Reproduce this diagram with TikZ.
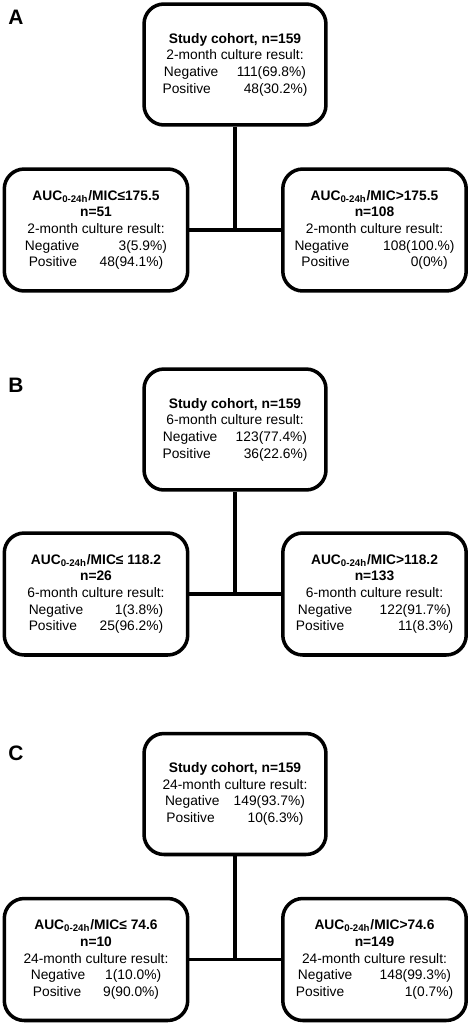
\documentclass[tikz,border=0pt]{standalone}
\usepackage{fontspec}
\setmainfont{Liberation Sans}
\usetikzlibrary{positioning,calc}
\newcommand{\resrow}[3]{\makebox[#1]{#2\hfill #3}}
\tikzset{
  cohort/.style={draw, line width=2pt, rounded corners=0.4cm, align=center,
    minimum width=3.64cm, minimum height=2.42cm, inner sep=0pt,
    font=\fontsize{7.85}{9.5}\selectfont},
  split/.style={cohort, minimum width=3.67cm, minimum height=2.44cm},
  link/.style={line width=2pt},
  panel/.style={font=\fontsize{11.9}{13}\selectfont\bfseries}
}
\begin{document}
\begin{tikzpicture}[x=0.02cm, y=-0.02cm]
        \useasboundingbox (0,0) rectangle (470,1024);
        % panel A
        \node[panel] (labA) at (16,17.5) {A};
        \node[cohort] (topA) at (235,64.5) {\textbf{Study cohort, n=159}\\2-month culture result:\\\resrow{10.3em}{Negative}{111(69.8\%)}\\\resrow{10.5em}{Positive}{48(30.2\%)}};
        \node[split] (lowA) at (96,230) {\textbf{AUC\textsubscript{0-24h}/MIC≤175.5}\\\textbf{n=51}\\2-month culture result:\\\resrow{10.3em}{Negative}{3(5.9\%)}\\\resrow{9.75em}{Positive}{48(94.1\%)}};
        \node[split] (highA) at (374.5,230) {\textbf{AUC\textsubscript{0-24h}/MIC>175.5}\\\textbf{n=108}\\2-month culture result:\\\resrow{11.6em}{Negative}{108(100.\%)}\\\resrow{10.6em}{Positive}{0(0\%)}};
        \draw[link] (lowA.east) -- (highA.west);
        \draw[link] (topA.south) -- (topA.south |- lowA.east);
        % panel B
        \node[panel] (labB) at (16,385) {B};
        \node[cohort] (topB) at (235,429.5) {\textbf{Study cohort, n=159}\\6-month culture result:\\\resrow{10.45em}{Negative}{123(77.4\%)}\\\resrow{10.5em}{Positive}{36(22.6\%)}};
        \node[split] (lowB) at (96,594) {\textbf{AUC\textsubscript{0-24h}/MIC≤ 118.2}\\\textbf{n=26}\\6-month culture result:\\\resrow{9.75em}{Negative}{1(3.8\%)}\\\resrow{9.75em}{Positive}{25(96.2\%)}};
        \node[split] (highB) at (374.5,594) {\textbf{AUC\textsubscript{0-24h}/MIC>118.2}\\\textbf{n=133}\\6-month culture result:\\\resrow{11.1em}{Negative}{122(91.7\%)}\\\resrow{11.4em}{Positive}{11(8.3\%)}};
        \draw[link] (lowB.east) -- (highB.west);
        \draw[link] (topB.south) -- (topB.south |- lowB.east);
        % panel C
        \node[panel] (labC) at (16,753) {C};
        \node[cohort] (topC) at (235,794) {\textbf{Study cohort, n=159}\\24-month culture result:\\\resrow{10.15em}{Negative}{149(93.7\%)}\\\resrow{9.95em}{Positive}{10(6.3\%)}};
        \node[split] (lowC) at (96,959.5) {\textbf{AUC\textsubscript{0-24h}/MIC≤ 74.6}\\\textbf{n=10}\\24-month culture result:\\\resrow{9.45em}{Negative}{1(10.0\%)}\\\resrow{9.15em}{Positive}{9(90.0\%)}};
        \node[split] (highC) at (374.5,959.5) {\textbf{AUC\textsubscript{0-24h}/MIC>74.6}\\\textbf{n=149}\\24-month culture result:\\\resrow{11.1em}{Negative}{148(99.3\%)}\\\resrow{11.4em}{Positive}{1(0.7\%)}};
        \draw[link] (lowC.east) -- (highC.west);
        \draw[link] (topC.south) -- (topC.south |- lowC.east);
\end{tikzpicture}
\end{document}
